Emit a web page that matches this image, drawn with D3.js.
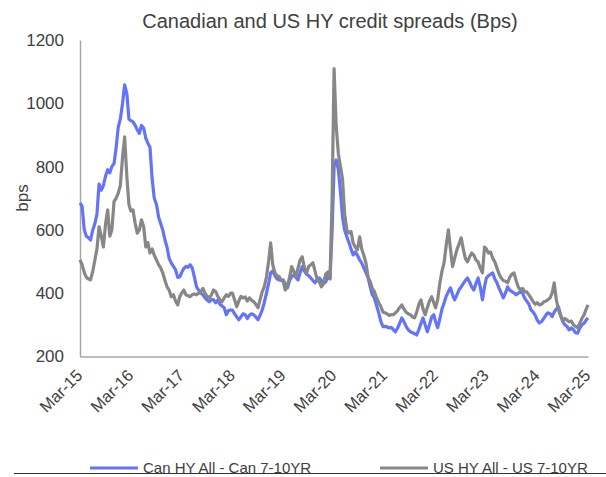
<!DOCTYPE html>
<html>
<head>
<meta charset="utf-8">
<script src="https://cdnjs.cloudflare.com/ajax/libs/d3/7.8.5/d3.min.js"></script>
<style>
  body { margin: 0; background: #fff; }
  svg { display: block; font-family: "Liberation Sans", Arial, sans-serif; }
</style>
</head>
<body>
<svg width="606" height="477"></svg>
<script>
"use strict";

// half-monthly readings, Mar-15 .. Mar-25 (one row per year, Mar..Feb)
var canSpread = [
  685, 675, 600, 580, 575, 568, 600, 620, 650, 745, 725, 740, 770, 790, 780, 800, 810, 860, 925, 950, 1000, 1058, 1030, 950,
  945, 941, 930, 916, 905, 930, 922, 890, 874, 862, 760, 700, 680, 641, 620, 600, 568, 545, 510, 496, 485, 474, 450, 452,
  465, 478, 485, 482, 490, 480, 450, 420, 410, 400, 395, 385, 378, 373, 380, 379, 370, 379, 365, 360, 354, 332, 345, 347,
  347, 335, 325, 316, 325, 335, 332, 320, 330, 335, 332, 325, 316, 330, 347, 370, 400, 430, 464, 470, 455, 445, 442, 440,
  442, 430, 417, 440, 452, 458, 450, 442, 465, 484, 470, 460, 455, 448, 440, 433, 445, 448, 440, 430, 436, 452, 445, 600,
  800, 821, 790, 720, 640, 600, 578, 560, 540, 521, 530, 520, 505, 495, 480, 465, 448, 420, 395, 385, 360, 338, 310, 294,
  295, 294, 290, 292, 285, 278, 290, 305, 322, 310, 295, 285, 278, 275, 272, 268, 285, 305, 322, 300, 278, 300, 325, 332,
  310, 291, 320, 350, 369, 390, 405, 417, 395, 379, 395, 410, 420, 430, 440, 448, 435, 420, 410, 430, 448, 420, 379, 420,
  448, 455, 460, 464, 445, 433, 415, 400, 385, 400, 420, 410, 405, 401, 395, 400, 405, 401, 385, 375, 365, 347, 340, 330,
  315, 306, 310, 320, 330, 338, 335, 326, 340, 350, 357, 330, 310, 300, 295, 284, 290, 285, 275, 274, 290, 300, 305, 315,
  322
];

var usSpread = [
  505, 490, 465, 450, 445, 442, 470, 505, 540, 610, 580, 546, 620, 663, 580, 600, 690, 700, 716, 740, 830, 894, 768, 680,
  660, 663, 620, 590, 600, 632, 610, 546, 560, 527, 540, 520, 505, 490, 480, 464, 440, 420, 410, 389, 395, 375, 363, 390,
  400, 410, 395, 392, 389, 395, 398, 395, 400, 405, 415, 400, 390, 385, 395, 410, 405, 390, 380, 373, 385, 395, 390, 400,
  400, 380, 357, 375, 390, 385, 388, 375, 385, 378, 373, 365, 354, 380, 404, 420, 452, 500, 559, 490, 464, 455, 452, 440,
  440, 410, 425, 450, 484, 470, 452, 480, 505, 515, 480, 464, 485, 490, 496, 470, 442, 435, 420, 430, 460, 467, 448, 700,
  1110, 930, 840, 800, 760, 650, 600, 590, 595, 559, 545, 537, 578, 540, 520, 496, 450, 436, 415, 405, 385, 370, 357, 340,
  338, 335, 330, 332, 332, 338, 345, 355, 363, 350, 340, 335, 332, 325, 322, 340, 365, 379, 350, 332, 355, 375, 389, 370,
  354, 380, 433, 470, 496, 550, 600, 540, 484, 510, 537, 555, 575, 540, 510, 499, 515, 527, 520, 505, 499, 480, 464, 546,
  540, 527, 530, 510, 499, 480, 460, 448, 440, 438, 433, 450, 460, 464, 440, 420, 410, 415, 405, 404, 395, 385, 373, 365,
  370, 363, 365, 372, 375, 379, 385, 400, 433, 380, 347, 330, 316, 320, 315, 310, 312, 300, 295, 291, 305, 320, 332, 350,
  363
];

var seriesNames = ["Can HY All - Can 7-10YR", "US HY All - US 7-10YR"];
var yTicks = [200, 400, 600, 800, 1000, 1200];
var startDate = new Date(2015, 2, 1);
var endDate = new Date(2025, 2, 1);
var xTicks = d3.range(2015, 2026).map(function (yr) { return new Date(yr, 2, 1); });

var dates = canSpread.map(function (d, i) {
  var m = d3.timeMonth.offset(startDate, Math.floor(i / 2));
  return i % 2 ? d3.timeDay.offset(m, 15) : m;
});

var svg = d3.select("svg");
var plot = { left: 80, right: 588, top: 40, bottom: 356.5 };

var x = d3.scaleTime().domain([startDate, endDate]).range([plot.left, plot.right]);
var y = d3.scaleLinear().domain([200, 1200]).range([plot.bottom, plot.top]);

svg.append("text")
  .attr("x", 330).attr("y", 28)
  .attr("text-anchor", "middle")
  .attr("fill", "#404040")
  .style("font-size", "20px")
  .text("Canadian and US HY credit spreads (Bps)");

// y axis
var yAxis = svg.append("g")
  .attr("transform", "translate(" + plot.left + ",0)")
  .call(d3.axisLeft(y).tickValues(yTicks).tickFormat(d3.format("d")).tickSize(0).tickPadding(16));
yAxis.select(".domain").attr("stroke", "#a6a6a6").attr("stroke-width", 1.5);
yAxis.selectAll("text").attr("fill", "#404040").style("font-size", "17px");

// x axis
var xAxis = svg.append("g")
  .attr("transform", "translate(0," + plot.bottom + ")")
  .call(d3.axisBottom(x).tickValues(xTicks).tickFormat(d3.timeFormat("%b-%y")).tickSize(0));
xAxis.select(".domain").attr("stroke", "#a6a6a6").attr("stroke-width", 1.5);
xAxis.selectAll("text")
  .attr("fill", "#404040")
  .style("font-size", "16.5px")
  .attr("text-anchor", "end")
  .attr("x", 0).attr("y", 0)
  .attr("dx", 0).attr("dy", 0)
  .attr("transform", "translate(3,20) rotate(-45)");

svg.append("text")
  .attr("transform", "translate(28,198) rotate(-90)")
  .attr("text-anchor", "middle")
  .attr("fill", "#404040")
  .style("font-size", "17px")
  .text("bps");

var line = d3.line()
  .x(function (d, i) { return x(dates[i]); })
  .y(function (d) { return y(d); });

var colors = ["#6374fb", "#878787"];
[canSpread, usSpread].forEach(function (s, k) {
  svg.append("path")
    .datum(s)
    .attr("fill", "none")
    .attr("stroke", colors[k])
    .attr("stroke-width", 3.2)
    .attr("stroke-linejoin", "round")
    .attr("d", line);
});

// legend
var legendX = [90, 380];
seriesNames.forEach(function (name, k) {
  var g = svg.append("g").attr("transform", "translate(" + legendX[k] + ",468)");
  g.append("line").attr("x1", 0).attr("x2", 48)
    .attr("stroke", colors[k]).attr("stroke-width", 3);
  g.append("text").attr("x", 53).attr("y", 4.5)
    .attr("fill", "#404040")
    .style("font-size", "15px")
    .text(name);
});

svg.append("line")
  .attr("x1", 14).attr("x2", 606)
  .attr("y1", 473.5).attr("y2", 473.5)
  .attr("stroke", "#333").attr("stroke-width", 1.2);
</script>
</body>
</html>
